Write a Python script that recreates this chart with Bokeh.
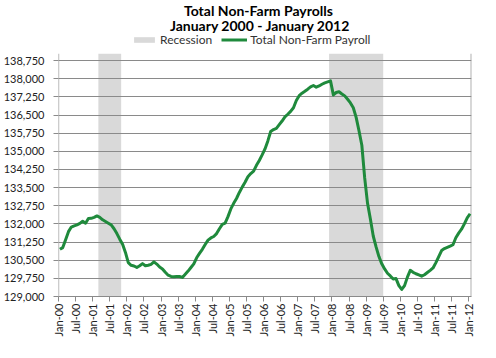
import math
from bokeh.plotting import figure
from bokeh.models import (ColumnDataSource, FixedTicker, NumeralTickFormatter,
                          Legend, LegendItem, Range1d)
from bokeh.core.properties import value
from bokeh.embed import file_html
from bokeh.resources import INLINE

# ---------------- data ----------------
# Monthly total non-farm payrolls (thousands), Jan 2000 .. Jan 2012 (month index 0..144)
payroll = [
    130950, 131020, 131350, 131680, 131870, 131920, 131960, 132020, 132110, 132030, 132220, 132230,  # 2000
    132270, 132330, 132270, 132170, 132100, 132030, 131960, 131800, 131600, 131370, 131160, 130820,  # 2001
    130400, 130290, 130260, 130200, 130270, 130360, 130270, 130290, 130330, 130430, 130340, 130220,  # 2002
    130140, 130000, 129880, 129830, 129815, 129830, 129825, 129790, 129920, 130050, 130200, 130350,  # 2003
    130600, 130780, 130950, 131150, 131330, 131420, 131480, 131600, 131800, 131980, 132030, 132300,  # 2004
    132620, 132850, 133050, 133300, 133520, 133720, 133950, 134080, 134180, 134420, 134620, 134850,  # 2005
    135100, 135430, 135820, 135900, 135950, 136100, 136250, 136420, 136530, 136650, 136800, 137100,  # 2006
    137300, 137400, 137480, 137566, 137660, 137720, 137650, 137700, 137770, 137830, 137870, 137910,  # 2007
    137330, 137430, 137460, 137370, 137290, 137150, 137000, 136800, 136400, 135850, 135250, 133900,  # 2008
    132850, 132200, 131500, 131050, 130650, 130350, 130140, 129960, 129850, 129720, 129740, 129450,  # 2009
    129290, 129450, 129800, 130080, 130000, 129940, 129890, 129840, 129900, 129990, 130080, 130180,  # 2010
    130400, 130650, 130900, 130980, 131030, 131080, 131140, 131430, 131620, 131780, 132000, 132250,  # 2011
    132420,                                                                                          # 2012
]

# Recessions as (first month index, last month index): Mar-01..Oct-01, Dec-07..Jun-09
recession_first = [14, 95]
recession_last = [21, 113]

tick_labels = ["Jan-00", "Jul-00", "Jan-01", "Jul-01", "Jan-02", "Jul-02", "Jan-03", "Jul-03",
               "Jan-04", "Jul-04", "Jan-05", "Jul-05", "Jan-06", "Jul-06", "Jan-07", "Jul-07",
               "Jan-08", "Jul-08", "Jan-09", "Jul-09", "Jan-10", "Jul-10", "Jan-11", "Jul-11",
               "Jan-12"]
y_ticks = list(range(129000, 138751, 750))

title_lines = ["Total Non-Farm Payrolls", "January 2000 - January 2012"]
series_names = ["Recession", "Total Non-Farm Payroll"]

# ---------------- styling / layout ----------------
FONT = "Lato"
GRID = "#8a8a8a"
GREEN = "#1f8a3c"
SHADE = "#d9d9d9"
N = len(payroll)

WIDTH, HEIGHT = 480, 342             # page is 496x358 with an 8px margin
BORDER_L, BORDER_R, BORDER_B = 53, 9, 46
FRAME_H = HEIGHT - BORDER_B          # frame covers the title band too
PX_PER_UNIT = 18.15 / 750            # vertical scale (pixels per thousand jobs)
Y_MIN = 129000
Y_TOP = Y_MIN + FRAME_H / PX_PER_UNIT   # top of frame (title band)
PLOT_TOP = 138750 + 6.8 / PX_PER_UNIT   # top of the actual plot area


def y_at(px_above_bottom):
    return Y_MIN + px_above_bottom / PX_PER_UNIT


p = figure(width=WIDTH, height=HEIGHT, output_backend="svg",
           toolbar_location=None, title=None,
           x_range=Range1d(0, N), y_range=Range1d(Y_MIN, Y_TOP),
           min_border_left=BORDER_L, min_border_right=BORDER_R,
           min_border_top=0, min_border_bottom=BORDER_B)
p.outline_line_color = None

# recession shading
rec_src = ColumnDataSource(dict(
    left=list(recession_first),
    right=[e + 1 for e in recession_last],
    bottom=[Y_MIN] * len(recession_first),
    top=[PLOT_TOP] * len(recession_first),
))
rec_r = p.quad(left="left", right="right", bottom="bottom", top="top", source=rec_src,
               fill_color=SHADE, line_color=None, level="underlay")

# gridlines
p.xgrid.visible = False
p.ygrid.ticker = FixedTicker(ticks=y_ticks)
p.ygrid.grid_line_color = GRID
p.ygrid.grid_line_width = 1
p.ygrid.level = "underlay"

# plot-area left axis line and right border (limited to the plot area)
p.segment(x0=[0.05, N - 0.12], y0=[Y_MIN, Y_MIN], x1=[0.05, N - 0.12], y1=[PLOT_TOP, PLOT_TOP],
          line_color=GRID, line_width=1)

# payroll line
src = ColumnDataSource(dict(x=[i + 0.5 for i in range(N)], y=payroll))
line_r = p.line("x", "y", source=src, line_color=GREEN, line_width=3, line_join="round")

# titles (inside the frame's top band)
p.text(x=[70.2, 70.8], y=[y_at(FRAME_H - 10), y_at(FRAME_H - 25)], text=title_lines,
       text_align="center", text_baseline="alphabetic", text_font=value(FONT),
       text_font_style="bold", text_font_size="14px", text_color="#000000")

legend = Legend(items=[LegendItem(label=series_names[0], renderers=[rec_r]),
                       LegendItem(label=series_names[1], renderers=[line_r])],
                orientation="horizontal", location=(73, FRAME_H - 47),
                glyph_width=26, glyph_height=7, label_standoff=3, spacing=9,
                padding=0, margin=0, border_line_color=None, background_fill_alpha=0,
                label_text_font=FONT, label_text_font_size="12px", label_height=12,
                label_text_color="#333333")
p.add_layout(legend)

# axes
xa = p.xaxis[0]
xa.ticker = FixedTicker(ticks=list(range(0, 6 * len(tick_labels), 6)))
xa.major_label_overrides = {6 * i: lbl for i, lbl in enumerate(tick_labels)}
xa.major_label_orientation = math.pi / 2
xa.major_tick_out = 5
xa.major_tick_in = 0
xa.minor_tick_line_color = None
xa.axis_line_color = GRID
xa.major_tick_line_color = GRID
xa.major_label_standoff = 2
xa.major_label_text_font = FONT
xa.major_label_text_font_size = "11px"
xa.major_label_text_color = "#222222"

ya = p.yaxis[0]
ya.ticker = FixedTicker(ticks=y_ticks)
ya.formatter = NumeralTickFormatter(format="0,0")
ya.axis_line_color = None
ya.major_tick_out = 5
ya.major_tick_in = 0
ya.minor_tick_line_color = None
ya.major_tick_line_color = GRID
ya.major_label_standoff = 9
ya.major_label_text_font = FONT
ya.major_label_text_font_size = "11px"
ya.major_label_text_color = "#222222"

open("out.html", "w").write(file_html(p, INLINE))
